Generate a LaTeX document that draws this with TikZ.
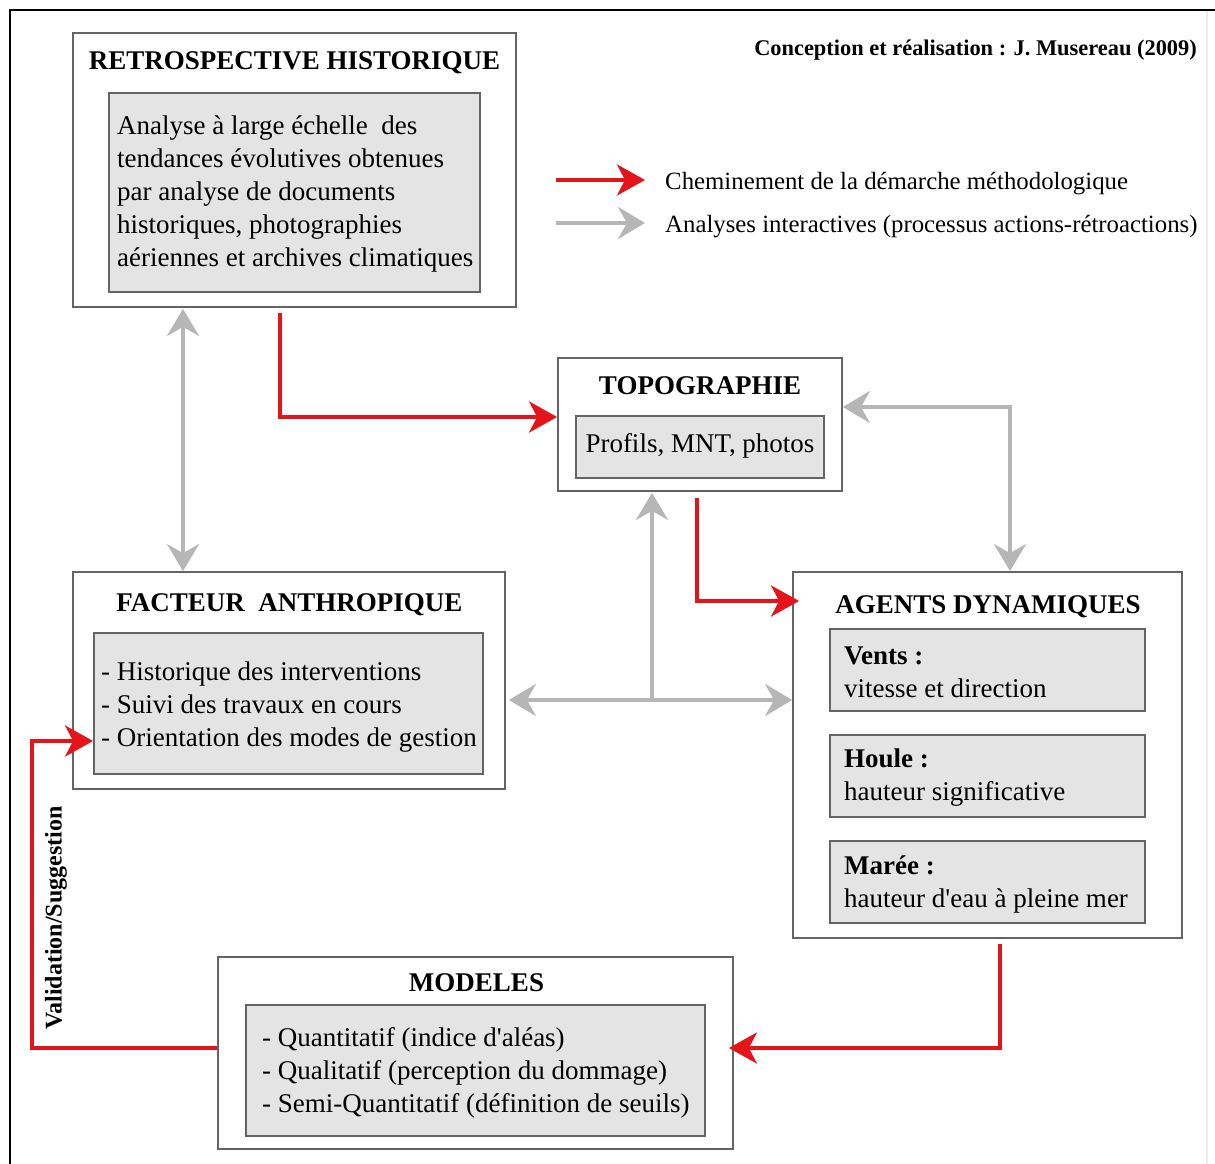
\documentclass[tikz,border=0pt]{standalone}
\usepackage{fontspec}
\setmainfont{Liberation Serif}
\usetikzlibrary{arrows.meta,calc}
\definecolor{redarr}{RGB}{228,20,26}
\definecolor{grayarr}{RGB}{182,182,182}
\definecolor{boxline}{RGB}{100,100,100}
\definecolor{innerfill}{RGB}{228,228,228}
\definecolor{faint}{RGB}{235,235,235}
\newcommand\bodyf{\fontsize{27}{33}\selectfont}
\newcommand\ttlf{\fontsize{27}{30}\selectfont\bfseries}
\newcommand\credf{\fontsize{22.4}{26}\selectfont\bfseries}
\newcommand\legf{\fontsize{24.8}{28}\selectfont}
\newcommand\valf{\fontsize{24}{26}\selectfont\bfseries}
\newcommand\apos{\textquotesingle}
\begin{document}
\begin{tikzpicture}[x=1pt,y=-1pt,
  outerbox/.style={draw=boxline, line width=1.8pt, fill=white, inner sep=0pt},
  innerbox/.style={draw=boxline, line width=1.8pt, fill=innerfill, inner sep=0pt},
  bodytext/.style={font=\bodyf, inner sep=0pt, align=left, anchor=west},
  ttl/.style={font=\ttlf, inner sep=0pt, anchor=base},
  rtip/.tip={Stealth[length=28pt,width=31pt,inset=8pt]},
  gtip/.tip={Stealth[length=27pt,width=32pt,inset=9pt]},
  rarrow/.style={draw=redarr, line width=4pt, -rtip},
  garrowtwo/.style={draw=grayarr, line width=4pt, gtip-gtip},
  garrowone/.style={draw=grayarr, line width=4pt, -gtip},
]
\useasboundingbox (0,0) rectangle (1215,1164);
% frame
\draw[faint, line width=1.2pt] (1207,10) -- (1207,1164);
\draw[black, line width=1.6pt] (10,1164) -- (10,10) -- (1215,10);

% credit and legend
\node[anchor=base east, font=\credf, inner sep=0pt] (credit) at (1197,56) {Conception et réalisation : J. Musereau (2009)};
\node[anchor=base west, font=\legf, inner sep=0pt] (leg1) at (665,189) {Cheminement de la démarche méthodologique};
\node[anchor=base west, font=\legf, inner sep=0pt] (leg2) at (665,232) {Analyses interactives (processus actions-rétroactions)};
\coordinate (l1a) at (556,180);
\coordinate (l1b) at (645,180);
\coordinate (l2a) at (556,223);
\coordinate (l2b) at (645,223);
\draw[rarrow] (l1a) -- (l1b);
\draw[garrowone] (l2a) -- (l2b);

% RETROSPECTIVE HISTORIQUE
\node[outerbox, minimum width=443pt, minimum height=274pt] (rh) at (294.5,170) {};
\node[ttl] (rht) at (294.5,70) {RETROSPECTIVE HISTORIQUE};
\node[innerbox, minimum width=371pt, minimum height=199pt] (rhin) at (294.5,192.5) {};
\node[bodytext] (rhtext) at (117,194)
 {Analyse à large échelle\ \ des\\tendances évolutives obtenues\\par analyse de documents\\historiques, photographies\\aériennes et archives climatiques};

% TOPOGRAPHIE
\node[outerbox, minimum width=284pt, minimum height=133pt] (topo) at (700,424.5) {};
\node[ttl] (topot) at (700,394) {TOPOGRAPHIE};
\node[innerbox, minimum width=248pt, minimum height=62pt] (topoin) at (700,447) {};
\node[font=\bodyf, inner sep=0pt] (topotext) at (700,446) {Profils, MNT, photos};

% FACTEUR ANTHROPIQUE
\node[outerbox, minimum width=432pt, minimum height=217pt] (fa) at (289,680.5) {};
\node[ttl] (fat) at (289.5,611) {FACTEUR\ \ ANTHROPIQUE};
\node[innerbox, minimum width=389pt, minimum height=141pt] (fain) at (288.5,703.5) {};
\node[bodytext] (fatext) at (101,707)
 {- Historique des interventions\\- Suivi des travaux en cours\\- Orientation des modes de gestion};

% AGENTS DYNAMIQUES
\node[outerbox, minimum width=389pt, minimum height=366pt] (ad) at (987.5,755) {};
\node[ttl] (adt) at (988,613) {AGENTS DYNAMIQUES};
\node[innerbox, minimum width=315pt, minimum height=82pt] (vents) at (987.5,670) {};
\node[bodytext] (ventstext) at (844,672) {\textbf{Vents :}\\vitesse et direction};
\node[innerbox, minimum width=315pt, minimum height=82pt] (houle) at (987.5,776) {};
\node[bodytext] (houletext) at (844,778) {\textbf{Houle :}\\hauteur significative};
\node[innerbox, minimum width=315pt, minimum height=82pt] (maree) at (987.5,882) {};
\node[bodytext] (mareetext) at (844,884) {\textbf{Marée :}\\hauteur d\apos eau à pleine mer};

% MODELES
\node[outerbox, minimum width=515pt, minimum height=192pt] (mod) at (475.5,1053) {};
\node[ttl] (modt) at (476.5,991) {MODELES};
\node[innerbox, minimum width=459pt, minimum height=131pt] (modin) at (475.5,1070.5) {};
\node[bodytext] (modtext) at (262,1073)
 {- Quantitatif (indice d\apos aléas)\\- Qualitatif (perception du dommage)\\- Semi-Quantitatif (définition de seuils)};

% connectors
\draw[rarrow] ([xshift=-14.5pt,yshift=-5pt]rh.south) |- ([yshift=7.5pt]topo.west);
\draw[garrowtwo] ([xshift=-111.5pt,yshift=-1pt]rh.south) -- ([xshift=-111.5pt]rh.south |- fa.north);
\draw[garrowtwo] ([yshift=17.5pt]topo.east) -| ([xshift=22.5pt]ad.north);
\draw[rarrow] ([xshift=-3pt,yshift=-6pt]topo.south) |- ([xshift=7pt,yshift=154pt]ad.west);
\coordinate (junc) at (652,700);
\draw[garrowtwo] ([xshift=3pt,yshift=-19.5pt]fa.east) -- ([yshift=55pt]ad.west);
\draw[garrowone] (junc) -- ([xshift=-48pt,yshift=-1pt]topo.south);
\draw[rarrow] ([xshift=12.5pt,yshift=-5pt]ad.south) |- ([xshift=-5pt,yshift=5pt]mod.east);
\coordinate (vbend) at (32,741);
\draw[rarrow] ([yshift=5pt]mod.west) -| (vbend) -- ([yshift=-37.5pt]fain.west);
\node[rotate=90, font=\valf, inner sep=0pt] (val) at (56,918) {Validation/Suggestion};
\end{tikzpicture}
\end{document}
